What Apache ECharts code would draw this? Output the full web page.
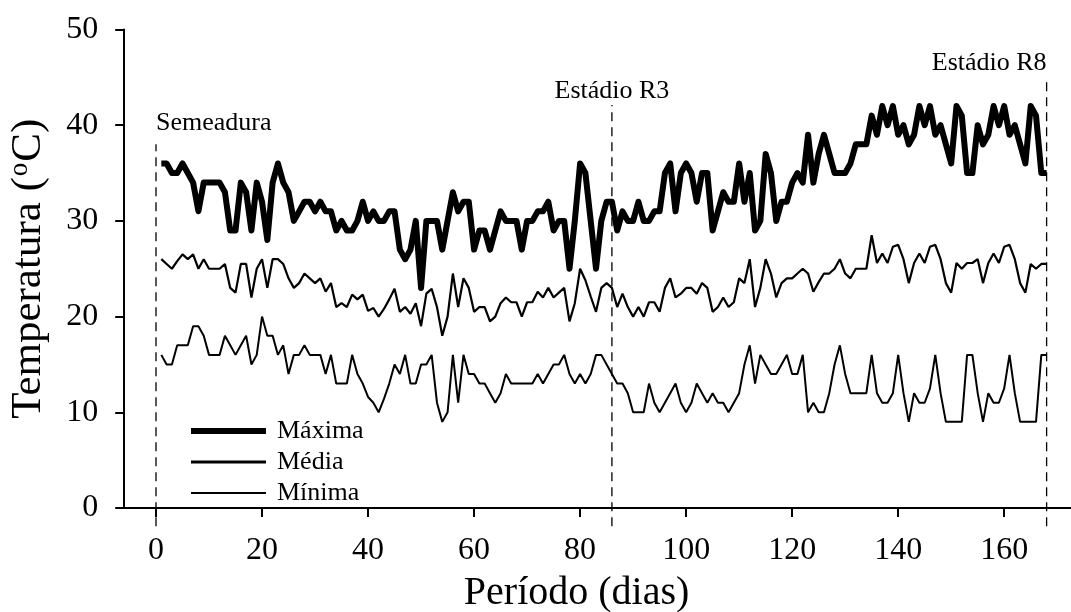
<!DOCTYPE html>
<html>
<head>
<meta charset="utf-8">
<script src="https://cdn.jsdelivr.net/npm/echarts@6/dist/echarts.min.js"></script>
<style>
html,body{margin:0;padding:0;background:#fff;}
#chart{width:1071px;height:612px;}
</style>
</head>
<body>
<div id="chart"></div>
<script>
// Daily temperatures (°C), day 1 .. 168
const maxima = [
 36,36,35,35,36,35,34,31,34,34,
 34,34,33,29,29,34,33,29,34,32,
 28,34,36,34,33,30,31,32,32,31,
 32,31,31,29,30,29,29,30,32,30,
 31,30,30,31,31,27,26,27,30,23,
 30,30,30,27,30,33,31,32,32,27,
 29,29,27,29,31,30,30,30,27,30,
 30,31,31,32,29,30,30,25,30,36,
 35,30,25,30,32,32,29,31,30,30,
 32,30,30,31,31,35,36,31,35,36,
 35,32,35,35,29,31,33,32,32,36,
 32,35,29,30,37,35,30,32,32,34,
 35,34,39,34,37,39,37,35,35,35,
 36,38,38,38,41,39,42,40,42,39,
 40,38,39,42,40,42,39,40,38,36,
 42,41,35,35,40,38,39,42,40,42,
 39,40,38,36,42,41,35,35
];
const media = [
 26,25.5,25,25.8,26.5,26,26.5,25,26,25,
 25,25,25.5,23,22.5,25.5,25.5,22,25,26,
 23,26,26,25.5,24,23,23.5,24.5,24,23.5,
 24,22.6,23.5,21,21.4,21,22.3,21.8,22.3,20.6,
 20.9,20,20.8,21.8,22.9,20.5,21,20.3,21.4,19,
 22.4,22.9,21,18,20,24.5,21,24,23,20.5,
 21,21,19.5,20,21.4,22,21.5,21.5,20,21.5,
 21.5,22.6,22,23,22,22.5,23,19.5,21.4,25,
 23.8,22.1,20.5,23,23.5,23,21,22.4,21,20,
 21,20,21.5,21.5,20.5,23,24,22,22.4,23,
 23,22.4,23.5,23,20.5,21,22,21,21.5,24,
 23.5,26,21,23,26,24.5,22,23.5,24,24,
 24.5,25,24.5,22.6,23.6,24.5,24.5,25,26,24.5,
 24,25,25,25,28.5,25.6,26.6,25.6,27.3,27.5,
 26,23.5,25.6,26.6,25.6,27.3,27.5,26,23.5,22.5,
 25.6,25,25.6,25.6,26,23.5,25.6,26.6,25.6,27.3,
 27.5,26,23.5,22.5,25.5,25,25.5,25.5
];
const minima = [
 16,15,15,17,17,17,19,19,18,16,
 16,16,18,17,16,17,18,15,16,20,
 18,18,16,17,14,16,16,17,16,16,
 16,14,16,13,13,13,16,14,13,11.6,
 11,10,11.4,13,15,14,16,13,13,15,
 15,16,11,9,10,16,11,16,14,14,
 13,13,12,11,12,14,13,13,13,13,
 13,14,13,14,15,15,16,14,13,14,
 13,14,16,16,15,14,13,13,12,10,
 10,10,13,11,10,11,12,13,11,10,
 11,13,12,11,12,11,11,10,11,12,
 15,17,13,16,15,14,14,15,16,14,
 14,16,10,11,10,10,12,15,17,14,
 12,12,12,12,16,12,11,11,12,16,
 12,9,12,11,11,12.5,16,12,9,9,
 9,9,16,16,12,9,12,11,11,12.5,
 16,12,9,9,9,9,16,16
];
const seriesNames = ['Máxima', 'Média', 'Mínima'];
const xTicks = [0, 20, 40, 60, 80, 100, 120, 140, 160];
const yTicks = [0, 10, 20, 30, 40, 50];
// stage markers: day, top of dashed line, label
const stageDays = [0, 86, 168];
const stageTops = [38, 42.1, 44.7];
const stageLabels = ['Semeadura', 'Estádio R3', 'Estádio R8'];
const lineBottom = -1.9;

const FONT = 'Liberation Serif';
const toXY = arr => arr.map((v, i) => [i + 1, v]);

const stageAlign = ['left', 'center', 'right'];
const stageDist = [8, 0, 4];

const stageSeries = stageDays.map((d, k) => ({
  type: 'line',
  name: 'stage' + k,
  silent: true,
  clip: false,
  symbol: 'circle',
  symbolSize: 1,
  showSymbol: true,
  z: 1,
  itemStyle: { color: 'rgba(0,0,0,0)', borderWidth: 0 },
  lineStyle: { color: '#000', width: 1.3, type: [9, 6] },
  label: { show: false },
  data: [
    [d, lineBottom],
    { value: [d, stageTops[k]],
      label: {
        show: true,
        formatter: stageLabels[k],
        position: 'top',
        distance: stageDist[k],
        align: stageAlign[k],
        fontFamily: FONT, fontSize: 26, color: '#000'
      }
    }
  ]
}));

const chart = echarts.init(document.getElementById('chart'), null, { renderer: 'canvas' });
chart.setOption({
  animation: false,
  backgroundColor: '#fff',
  grid: { left: 124.2, right: 0, top: 29.5, bottom: 104, containLabel: false, outerBoundsMode: 'none' },
  legend: {
    orient: 'vertical',
    left: 183, top: 413,
    itemWidth: 75, itemHeight: 26, itemGap: 5,
    itemStyle: { opacity: 0 },
    textStyle: { fontFamily: FONT, fontSize: 26, color: '#000', padding: [0, 0, 0, 6] },
    data: [
      { name: 'Máxima', lineStyle: { width: 6 } },
      { name: 'Média', lineStyle: { width: 3 } },
      { name: 'Mínima', lineStyle: { width: 2 } }
    ]
  },
  xAxis: {
    type: 'value', min: -6, max: 172.6,
    name: 'Período (dias)', nameLocation: 'middle', nameGap: 65,
    nameTextStyle: { fontFamily: FONT, fontSize: 40, color: '#000', padding: [0, 42, 0, 0] },
    axisLine: { show: true, onZero: false, lineStyle: { color: '#000', width: 2 } },
    axisTick: { show: true, inside: false, length: 9, customValues: xTicks, lineStyle: { color: '#000', width: 2 } },
    axisLabel: { customValues: xTicks, margin: 27, fontFamily: FONT, fontSize: 32, color: '#000' },
    splitLine: { show: false }
  },
  yAxis: {
    type: 'value', min: 0, max: 50, interval: 10,
    name: 'Temperatura ({s|o}C)', nameLocation: 'middle', nameGap: 73, nameRotate: 90,
    nameTextStyle: { fontFamily: FONT, fontSize: 43, color: '#000',
      rich: { s: { fontFamily: FONT, fontSize: 27, verticalAlign: 'top', padding: [0, 1, 18, 1] } } },
    axisLine: { show: true, onZero: false, lineStyle: { color: '#000', width: 2 } },
    axisTick: { show: true, inside: false, length: 9, lineStyle: { color: '#000', width: 2 } },
    axisLabel: { margin: 26, fontFamily: FONT, fontSize: 32, color: '#000', customValues: yTicks },
    splitLine: { show: false }
  },
  series: [
    { type: 'line', name: seriesNames[0], data: toXY(maxima), symbol: 'none', showSymbol: false, z: 3,
      lineStyle: { color: '#000', width: 6, join: 'round' }, itemStyle: { color: '#000' } },
    { type: 'line', name: seriesNames[1], data: toXY(media), symbol: 'none', showSymbol: false, z: 3,
      lineStyle: { color: '#000', width: 2.2 }, itemStyle: { color: '#000' } },
    { type: 'line', name: seriesNames[2], data: toXY(minima), symbol: 'none', showSymbol: false, z: 3,
      lineStyle: { color: '#000', width: 2 }, itemStyle: { color: '#000' } }
  ].concat(stageSeries)
});
</script>
</body>
</html>
